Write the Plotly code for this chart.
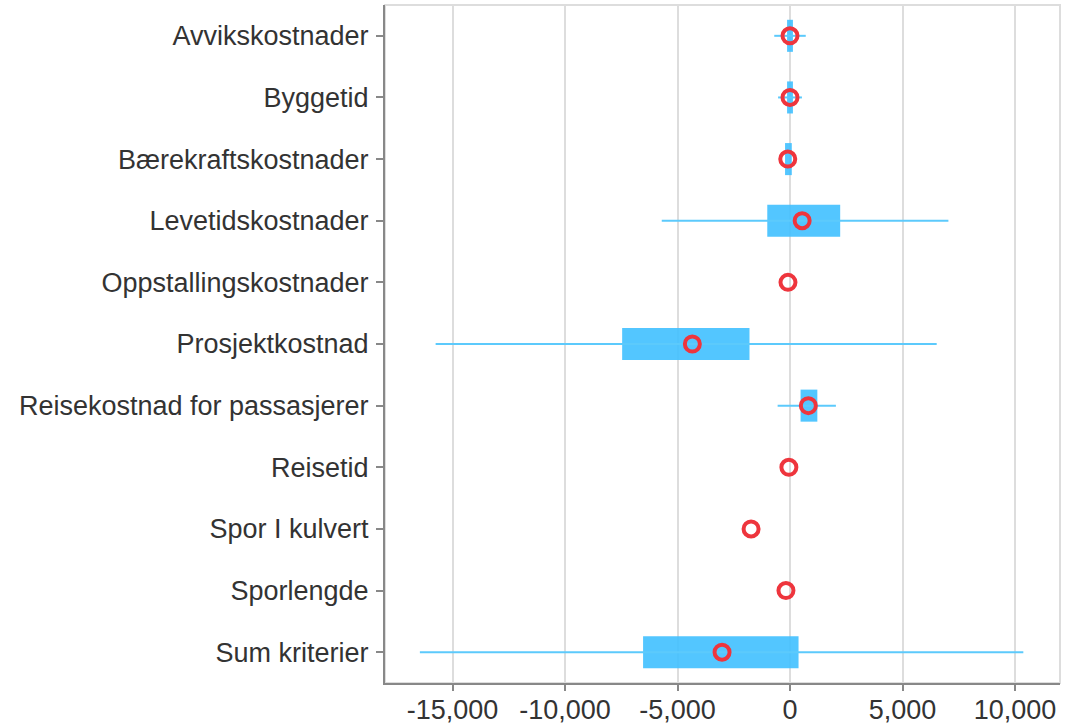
import plotly.graph_objects as go

categories = ["Avvikskostnader", "Byggetid", "Bærekraftskostnader", "Levetidskostnader",
              "Oppstallingskostnader", "Prosjektkostnad", "Reisekostnad for passasjerer",
              "Reisetid", "Spor I kulvert", "Sporlengde", "Sum kriterier"]
whisker_low = [-700, -530, None, -5700, None, -15750, -550, None, None, None, -16450]
whisker_high = [700, 530, None, 7040, None, 6520, 2040, None, None, None, 10370]
box_low = [-130, -130, -220, -1010, None, -7460, 470, None, None, None, -6530]
box_high = [130, 130, 80, 2230, None, -1800, 1215, None, None, None, 380]
point_value = [0, 0, -100, 540, -90, -4340, 815, -50, -1730, -180, -3020]

tick_vals = [-15000, -10000, -5000, 0, 5000, 10000]
tick_text = [f"{v:,}" for v in tick_vals]

FONT = "Liberation Sans, Arial, sans-serif"

wx, wy = [], []
for c, lo, hi in zip(categories, whisker_low, whisker_high):
    if lo is None:
        continue
    wx += [lo, hi, None]
    wy += [c, c, None]

bc, bb, bw = [], [], []
for c, lo, hi in zip(categories, box_low, box_high):
    if lo is None:
        continue
    bc.append(c)
    bb.append(lo)
    bw.append(hi - lo)

fig = go.Figure()
fig.add_trace(go.Scatter(x=wx, y=wy, mode="lines", line=dict(color="#5ccafc", width=2),
                         hoverinfo="skip", showlegend=False))
fig.add_trace(go.Bar(y=bc, x=bw, base=bb, orientation="h", width=0.52,
                     marker=dict(color="rgba(64,192,255,0.9)", line=dict(width=0)),
                     showlegend=False))
fig.add_trace(go.Scatter(x=point_value, y=categories, mode="markers",
                         marker=dict(symbol="circle-open", size=15, color="#ee353d",
                                     line=dict(width=4, color="#ee353d")),
                         showlegend=False))

fig.update_layout(
    width=1066, height=725,
    margin=dict(l=385, r=6, t=5, b=42),
    paper_bgcolor="white", plot_bgcolor="white",
    font=dict(family=FONT, size=27, color="#333333"),
    showlegend=False,
    shapes=[dict(type="rect", xref="paper", yref="paper", x0=0, x1=1, y0=0, y1=1,
                 line=dict(color="#dddddd", width=2), layer="below")],
)
fig.update_xaxes(range=[-18000, 12000], tickvals=tick_vals, ticktext=tick_text,
                 automargin=False,
                 showgrid=True, gridcolor="#dddddd", gridwidth=1.5, zeroline=False,
                 showline=True, linecolor="#888888", linewidth=2,
                 ticks="outside", ticklen=6, tickcolor="#888888", tickwidth=1.5,
                 ticklabelstandoff=-4,
                 tickfont=dict(family=FONT, size=27, color="#333333"))
fig.update_yaxes(type="category", categoryorder="array", categoryarray=categories,
                 range=[len(categories) - 0.5, -0.5], showgrid=False, zeroline=False,
                 automargin=False,
                 showline=True, linecolor="#888888", linewidth=2,
                 ticks="outside", ticklen=7, tickcolor="#888888", tickwidth=1.5,
                 ticklabelstandoff=2,
                 tickfont=dict(family=FONT, size=27, color="#333333"))

fig.write_html("out.html", config={"displayModeBar": False},
               post_script="document.body.style.margin='0';document.body.style.overflow='hidden';")
